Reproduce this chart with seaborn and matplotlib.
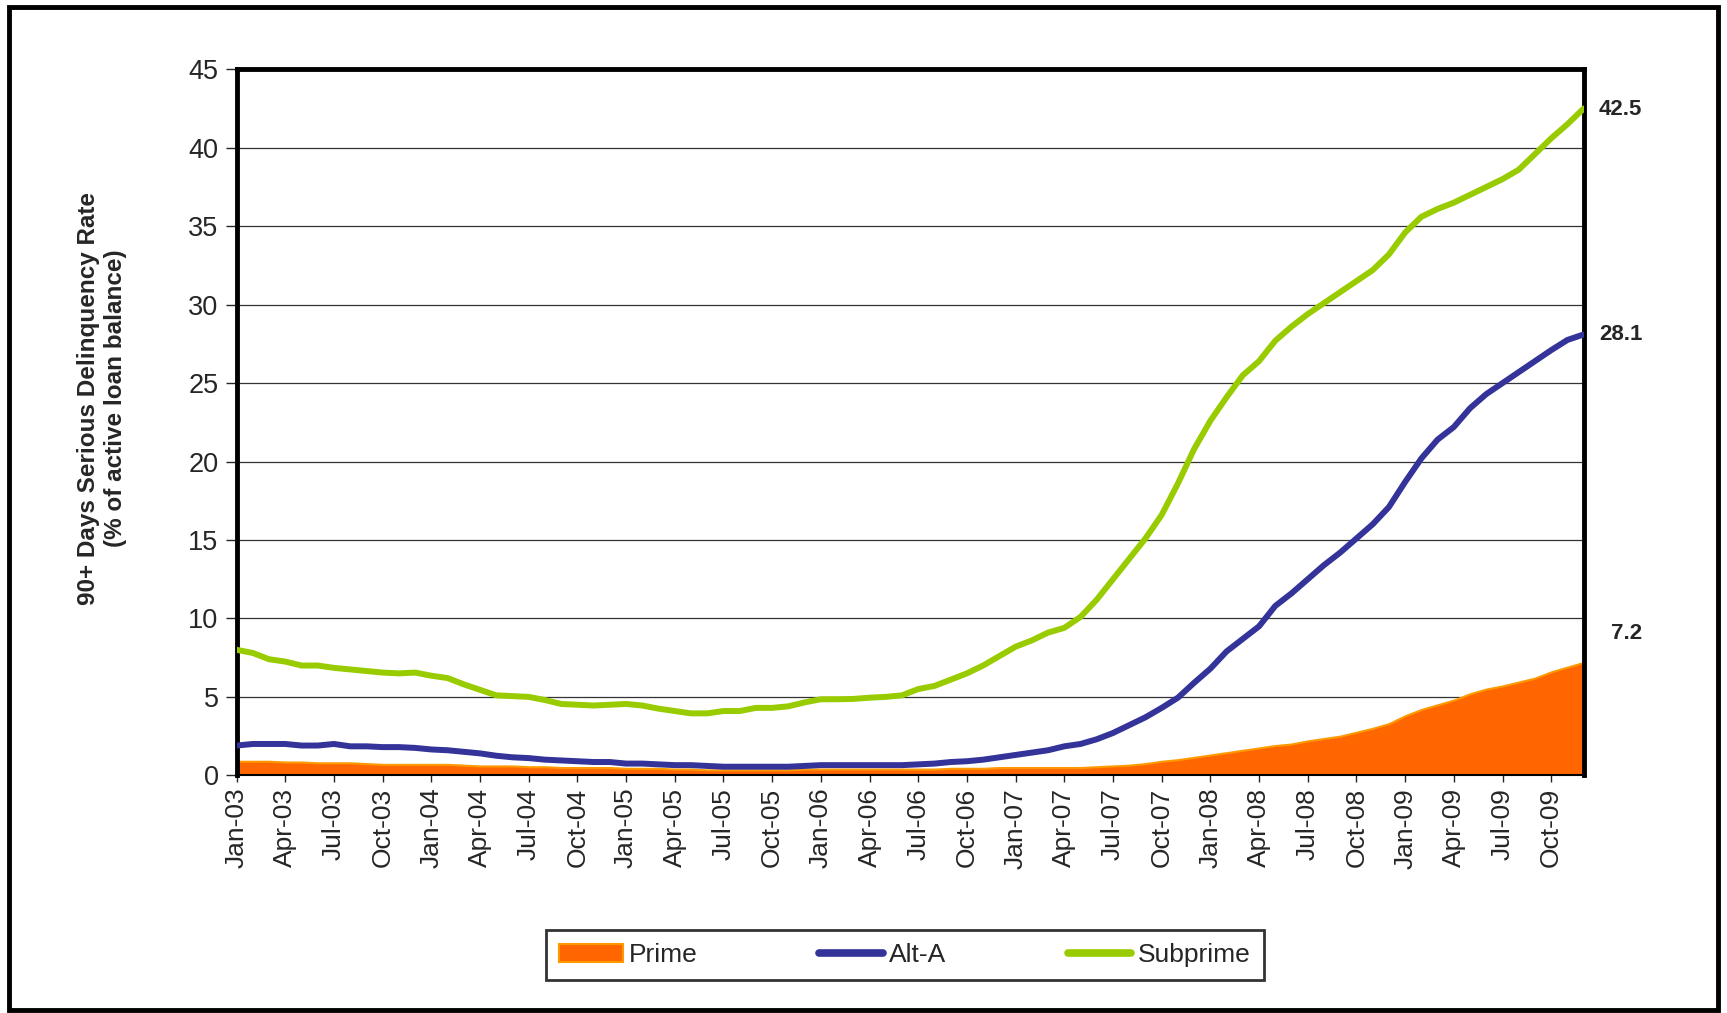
import numpy as np
import pandas as pd
import seaborn as sns
import matplotlib.pyplot as plt
from matplotlib.patches import Rectangle, Patch
from matplotlib.lines import Line2D

# monthly data, Jan-03 .. Dec-09
months = pd.date_range("2003-01-01", "2009-12-01", freq="MS").strftime("%b-%y").tolist()

prime = [0.9, 0.9, 0.9, 0.85, 0.85, 0.8, 0.8, 0.8, 0.75, 0.7, 0.7, 0.7,
         0.7, 0.7, 0.65, 0.6, 0.6, 0.6, 0.55, 0.55, 0.5, 0.5, 0.5, 0.5,
         0.45, 0.45, 0.45, 0.4, 0.4, 0.35, 0.35, 0.35, 0.35, 0.35, 0.35, 0.4,
         0.4, 0.4, 0.4, 0.4, 0.4, 0.4, 0.4, 0.4, 0.45, 0.45, 0.45, 0.5,
         0.5, 0.5, 0.5, 0.5, 0.5, 0.55, 0.6, 0.65, 0.75, 0.9, 1.0, 1.15,
         1.3, 1.45, 1.6, 1.75, 1.9, 2.0, 2.2, 2.35, 2.5, 2.75, 3.0, 3.3,
         3.8, 4.2, 4.5, 4.8, 5.2, 5.5, 5.7, 5.95, 6.2, 6.6, 6.9, 7.2]

alt_a = [1.9, 2.0, 2.0, 2.0, 1.9, 1.9, 2.0, 1.85, 1.85, 1.8, 1.8, 1.75,
         1.65, 1.6, 1.5, 1.4, 1.25, 1.15, 1.1, 1.0, 0.95, 0.9, 0.85, 0.85,
         0.75, 0.75, 0.7, 0.65, 0.65, 0.6, 0.55, 0.55, 0.55, 0.55, 0.55, 0.6,
         0.65, 0.65, 0.65, 0.65, 0.65, 0.65, 0.7, 0.75, 0.85, 0.9, 1.0, 1.15,
         1.3, 1.45, 1.6, 1.85, 2.0, 2.3, 2.7, 3.2, 3.7, 4.3, 4.95, 5.9,
         6.8, 7.9, 8.7, 9.5, 10.8, 11.6, 12.5, 13.4, 14.2, 15.1, 16.0, 17.1,
         18.7, 20.2, 21.4, 22.2, 23.4, 24.3, 25.0, 25.7, 26.4, 27.1, 27.75, 28.1]

subprime = [8.0, 7.8, 7.4, 7.25, 7.0, 7.0, 6.85, 6.75, 6.65, 6.55, 6.5, 6.55,
            6.35, 6.2, 5.8, 5.45, 5.1, 5.05, 5.0, 4.8, 4.55, 4.5, 4.45, 4.5,
            4.55, 4.45, 4.25, 4.1, 3.95, 3.95, 4.1, 4.1, 4.3, 4.3, 4.4, 4.65,
            4.85, 4.85, 4.87, 4.95, 5.0, 5.1, 5.5, 5.7, 6.1, 6.5, 7.0, 7.6,
            8.2, 8.6, 9.1, 9.4, 10.1, 11.2, 12.5, 13.8, 15.1, 16.6, 18.6, 20.8,
            22.6, 24.1, 25.5, 26.4, 27.7, 28.6, 29.4, 30.1, 30.8, 31.5, 32.2, 33.2,
            34.6, 35.6, 36.1, 36.5, 37.0, 37.5, 38.0, 38.6, 39.6, 40.6, 41.5, 42.5]

end_labels = ["7.2", "28.1", "42.5"]

ORANGE, ORANGE_EDGE, BLUE, GREEN = "#FF6600", "#FF9900", "#333399", "#99CC00"

sns.set_style("white")
plt.rcParams['font.family'] = ['Liberation Sans', 'DejaVu Sans']

idx = np.arange(len(months))
df = pd.DataFrame({"idx": idx, "Prime": prime, "Alt-A": alt_a, "Subprime": subprime})
long_df = df.melt(id_vars="idx", value_vars=["Alt-A", "Subprime"], var_name="series", value_name="rate")

fig = plt.figure(figsize=(17.27, 10.13), dpi=100)
ax = fig.add_axes([0.137, 0.2346, 0.780, 0.697])

# prime as filled area
ax.fill_between(df["idx"], 0, df["Prime"], facecolor=ORANGE, edgecolor=ORANGE_EDGE,
                linewidth=1.5, zorder=2)

sns.lineplot(data=long_df, x="idx", y="rate", hue="series",
             palette={"Alt-A": BLUE, "Subprime": GREEN}, linewidth=4.3,
             legend=False, ax=ax, zorder=3)

ax.set_xlim(0, len(months) - 1)
ax.set_ylim(0, 45)
ax.set_yticks(np.arange(0, 46, 5))
ax.set_xticks(idx[::3])
ax.set_xticklabels(months[::3], rotation=90, fontsize=19)
ax.tick_params(axis="y", labelsize=19.5, length=8, width=1, direction="out", left=True, pad=5)
ax.tick_params(axis="x", length=5, width=1, direction="out", bottom=True, pad=4)
ax.yaxis.grid(True, color="#333333", linewidth=0.9)
ax.set_axisbelow(True)
ax.set_xlabel("")
ax.set_ylabel("")
for side in ["left", "top", "right"]:
    ax.spines[side].set_linewidth(3.5)
    ax.spines[side].set_color("black")
ax.spines["bottom"].set_linewidth(1.5)
ax.spines["bottom"].set_color("black")

fig.text(0.059, 0.607, "90+ Days Serious Delinquency Rate\n(% of active loan balance)",
         rotation=90, ha="center", va="center", fontsize=17.5, fontweight="bold",
         multialignment="center", linespacing=1.2)

# end-of-series value labels
last = len(months) - 1
ax.annotate(end_labels[2], xy=(last, subprime[-1]), xytext=(11, -1), textcoords="offset points",
            fontsize=16, fontweight="bold", va="center", ha="left")
ax.annotate(end_labels[1], xy=(last, alt_a[-1]), xytext=(11, 0), textcoords="offset points",
            fontsize=16, fontweight="bold", va="center", ha="left")
ax.annotate(end_labels[0], xy=(last, prime[-1]), xytext=(20, 21), textcoords="offset points",
            fontsize=16, fontweight="bold", va="center", ha="left")

handles = [Patch(facecolor=ORANGE, edgecolor=ORANGE_EDGE, linewidth=1.5),
           Line2D([], [], color=BLUE, linewidth=5.5),
           Line2D([], [], color=GREEN, linewidth=5.5)]
leg = fig.legend(handles, ["Prime", "Alt-A", "Subprime"], loc="center",
                 bbox_to_anchor=(0.524, 0.057), ncol=3, fontsize=19, frameon=True,
                 fancybox=False, edgecolor="black", borderpad=0.5, columnspacing=4.6,
                 handlelength=2.4, handletextpad=0.25)
leg.get_frame().set_linewidth(2)

# outer border
fig.patches.append(Rectangle((0.005, 0.003), 0.99, 0.99, transform=fig.transFigure,
                             fill=False, edgecolor="black", linewidth=3.5))

fig.savefig("out.png", dpi=100)
